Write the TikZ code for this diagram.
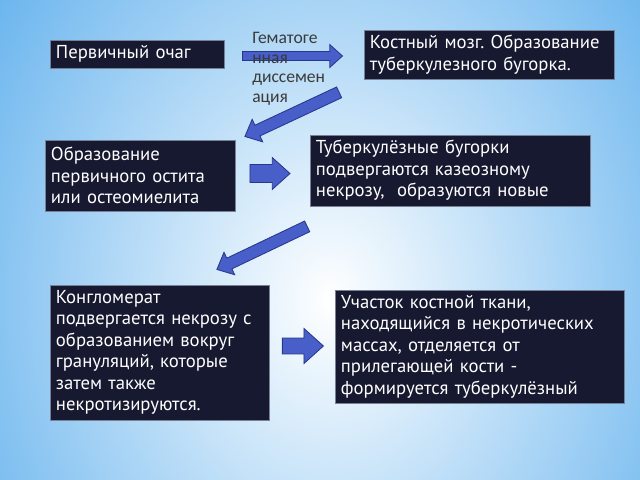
\documentclass[tikz,border=0pt]{standalone}
\usepackage{fontspec}
\setmainfont{PT Sans}
\newfontfamily\labelfont{Carlito}
\usetikzlibrary{shapes.arrows}
\definecolor{navybox}{RGB}{22,25,48}
\definecolor{boxline}{RGB}{120,128,150}
\definecolor{arrowfill}{RGB}{72,94,200}
\definecolor{arrowline}{RGB}{40,55,140}
\definecolor{skyedge}{RGB}{104,180,238}
\definecolor{labelgray}{RGB}{58,58,58}
\frenchspacing

\begin{document}
\begin{tikzpicture}[x=0.025cm,y=-0.025cm,
		stepnode/.style={rectangle,fill=navybox,draw=boxline,line width=0.5pt,text=white,align=left,inner xsep=0.15cm,inner ysep=0pt,font=\fontsize{13.3}{15.3}\selectfont},
		blockarrow/.style={single arrow,fill=arrowfill,draw=arrowline,line width=0.6pt,inner xsep=0pt,single arrow tip angle=84}]
		\useasboundingbox (0,0) rectangle (640,480);
		\fill[skyedge] (0,0) rectangle (640,480);
		\begin{scope}
			\clip (0,0) rectangle (640,480);
			\shade[inner color=white,outer color=skyedge] (330,300) ellipse [x radius=10.5cm,y radius=13cm];
		\end{scope}

		\node[stepnode,text width=4.05cm,minimum height=0.7cm]		(focus)		at (137,54)		{Первичный очаг};
		\node[stepnode,text width=5.95cm,minimum height=1.225cm]	(marrow)	at (489,54.5)	{Костный мозг. Образование\\туберкулезного бугорка.};
		\node[stepnode,text width=4.45cm,minimum height=1.775cm]	(ostitis)	at (140,175.5)	{Образование\\первичного остита\\или остеомиелита};
		\node[stepnode,text width=6.7cm,minimum height=1.775cm]		(tubercles)	at (450,170.5)	{Туберкулёзные бугорки\\подвергаются казеозному\\некрозу,\ \ образуются новые};
		\node[stepnode,text width=5.175cm,minimum height=3.375cm]	(conglom)	at (159.5,352.5)	{Конгломерат\\подвергается некрозу с\\образованием вокруг\\грануляций, которые\\затем также\\некротизируются.};
		\node[stepnode,text width=6.925cm,minimum height=2.825cm]	(sequester)	at (479.5,346.5)	{Участок костной ткани,\\находящийся в некротических\\массах, отделяется от\\прилегающей кости -\\формируется туберкулёзный};

		\node[blockarrow,minimum height=2.5cm,inner ysep=0.1cm,single arrow head extend=0.175cm]				(spread)	at (290,56)		{};
		\node[blockarrow,rotate=205.1,minimum height=2.6cm,inner ysep=0.1375cm,single arrow head extend=0.1625cm]	(down1)		at (295,113)	{};
		\node[blockarrow,minimum height=1cm,inner ysep=0.2125cm,single arrow head extend=0.175cm]				(next1)		at (265,173.5)	{};
		\node[blockarrow,rotate=205.5,minimum height=2.5cm,inner ysep=0.1375cm,single arrow head extend=0.1625cm]	(down2)		at (265,246.5)	{};
		\node[blockarrow,minimum height=1.025cm,inner ysep=0.1875cm,single arrow head extend=0.24cm]			(next2)		at (298.5,346)	{};

		\node[anchor=north west,align=left,inner sep=0pt,text=labelgray,font=\labelfont\fontsize{12.5}{14}\selectfont] (route) at (252,32) {Гематоге\\нная\\диссемен\\ация};
	\end{tikzpicture}
\end{document}
